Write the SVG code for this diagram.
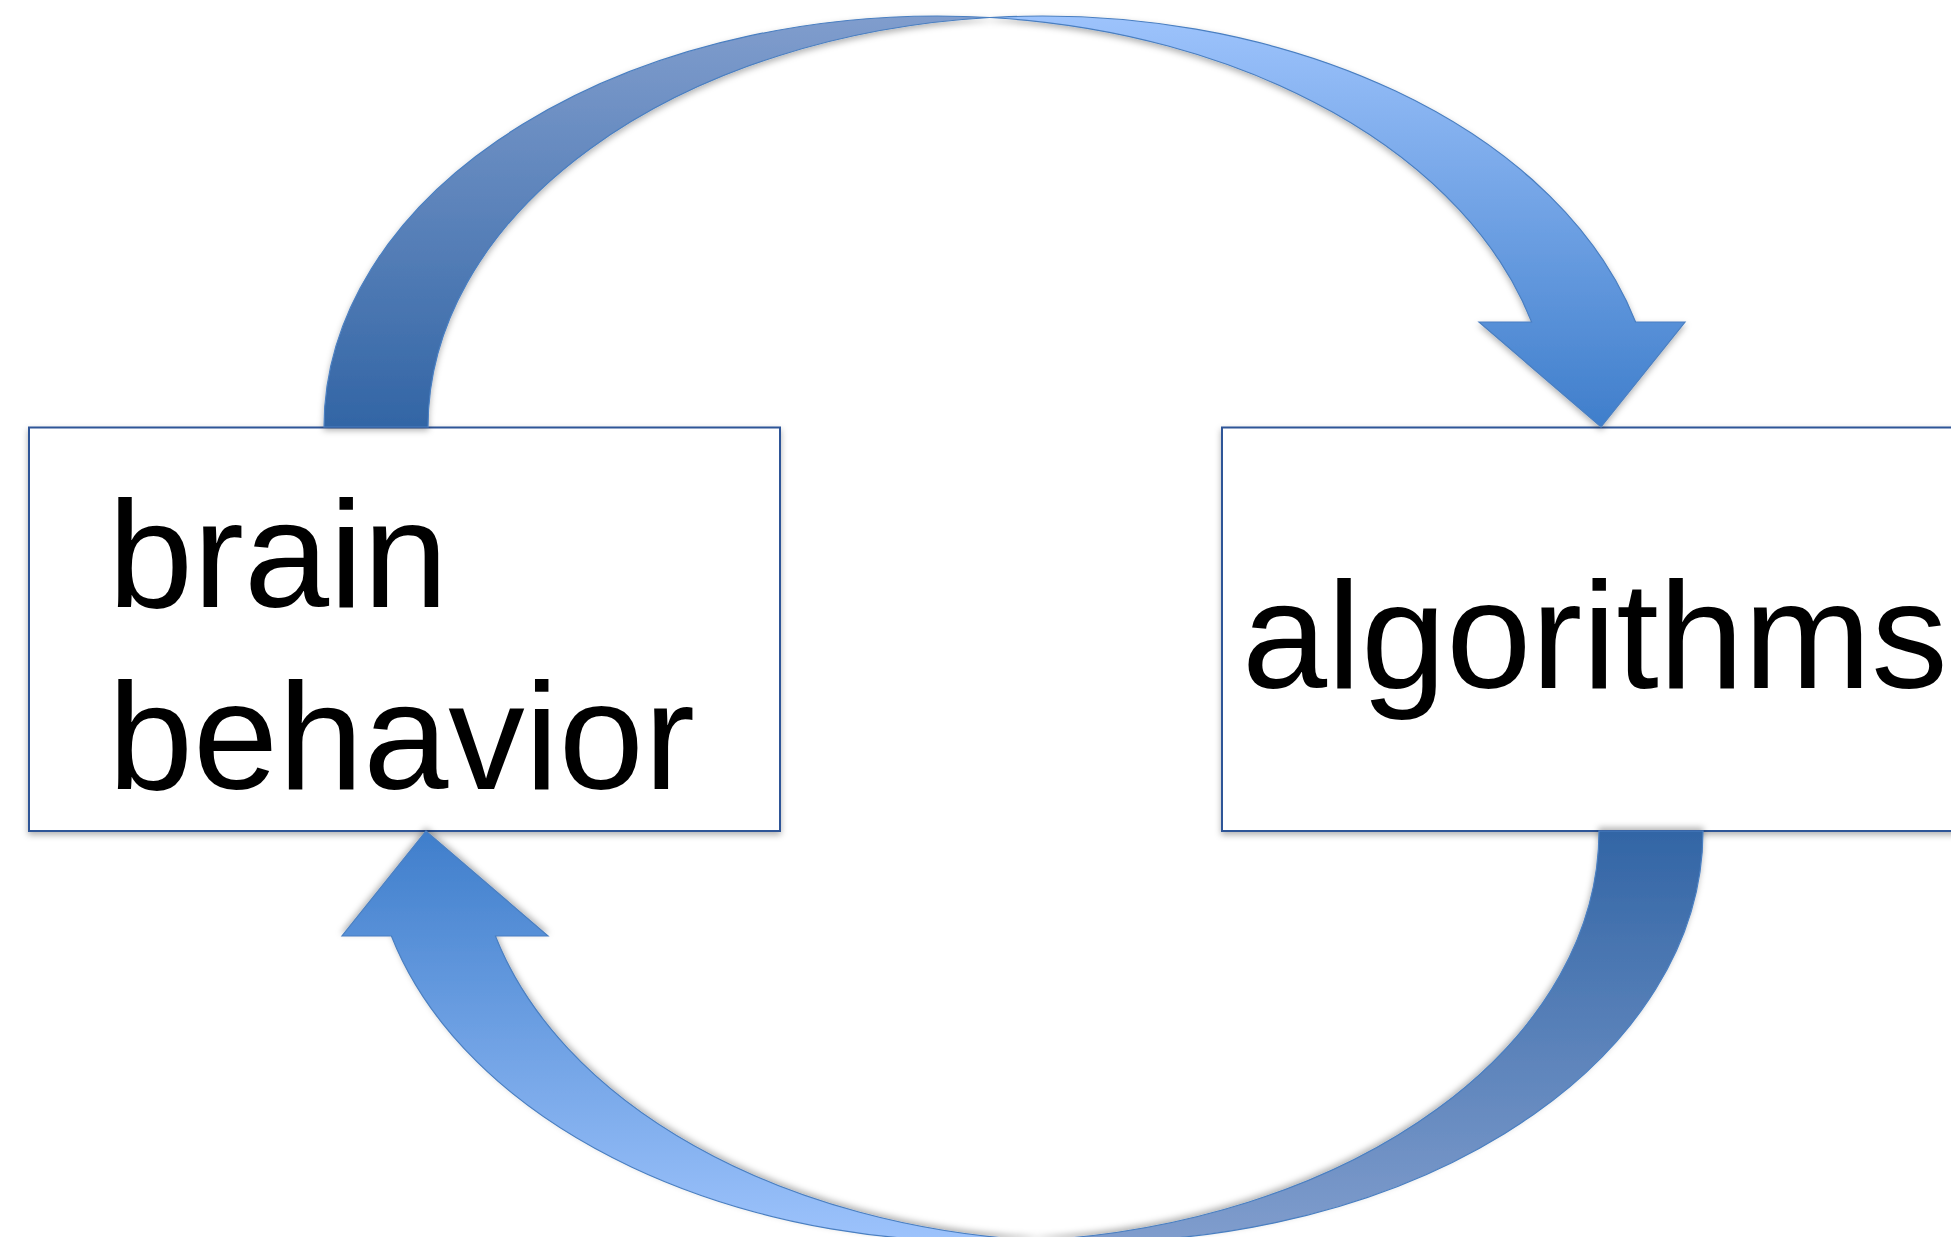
<svg xmlns="http://www.w3.org/2000/svg" width="1951" height="1237" viewBox="0 0 1951 1237">
  <style>
    .box { fill: #ffffff; stroke: #2f5597; stroke-width: 2; }
    .label { font-family: "Liberation Sans", Arial, sans-serif; font-size: 153px; fill: #000000; }
    .band { stroke: #4a7fc1; stroke-width: 1.2; stroke-linejoin: miter; }
  </style>
  <defs>
    <linearGradient id="backGrad" x1="0" y1="0" x2="0" y2="1">
      <stop offset="0" stop-color="#809dcd"/>
      <stop offset="1" stop-color="#3265a5"/>
    </linearGradient>
    <linearGradient id="frontGrad" x1="0" y1="0" x2="0" y2="1">
      <stop offset="0" stop-color="#9dc3fc"/>
      <stop offset="1" stop-color="#3f7ecb"/>
    </linearGradient>
    <filter id="shadow" x="-10%" y="-10%" width="120%" height="130%">
      <feDropShadow dx="0" dy="3" stdDeviation="3" flood-color="#000000" flood-opacity="0.3"/>
    </filter>
  </defs>

  <g id="node-brain-behavior">
    <rect class="box" x="29" y="427.5" width="751" height="403.5" filter="url(#shadow)"/>
    <text class="label" x="108" y="607">brain</text>
    <text class="label" x="108" y="789">behavior</text>
  </g>

  <g id="node-algorithms">
    <rect class="box" x="1222" y="427.5" width="760" height="403.5" filter="url(#shadow)"/>
    <text class="label" x="1242" y="688">algorithms</text>
  </g>

  <g id="connectors">
    <g id="arrow-top" filter="url(#shadow)">
      <path class="band" fill="url(#backGrad)" d="M 324 427 A 614 411 0 0 1 990 17.5 A 614 411 0 0 0 428 427 Z"/>
      <path class="band" fill="url(#frontGrad)" d="M 990 17.5 A 614 411 0 0 1 1635.6 322 L 1685 322 L 1601 427 L 1479 322 L 1531.6 322 A 614 411 0 0 0 990 17.5 Z"/>
    </g>
    <g id="arrow-bottom" filter="url(#shadow)" transform="rotate(180 1013.5 629)">
      <path class="band" fill="url(#backGrad)" d="M 324 427 A 614 411 0 0 1 990 17.5 A 614 411 0 0 0 428 427 Z"/>
      <path class="band" fill="url(#frontGrad)" d="M 990 17.5 A 614 411 0 0 1 1635.6 322 L 1685 322 L 1601 427 L 1479 322 L 1531.6 322 A 614 411 0 0 0 990 17.5 Z"/>
    </g>
  </g>
</svg>
